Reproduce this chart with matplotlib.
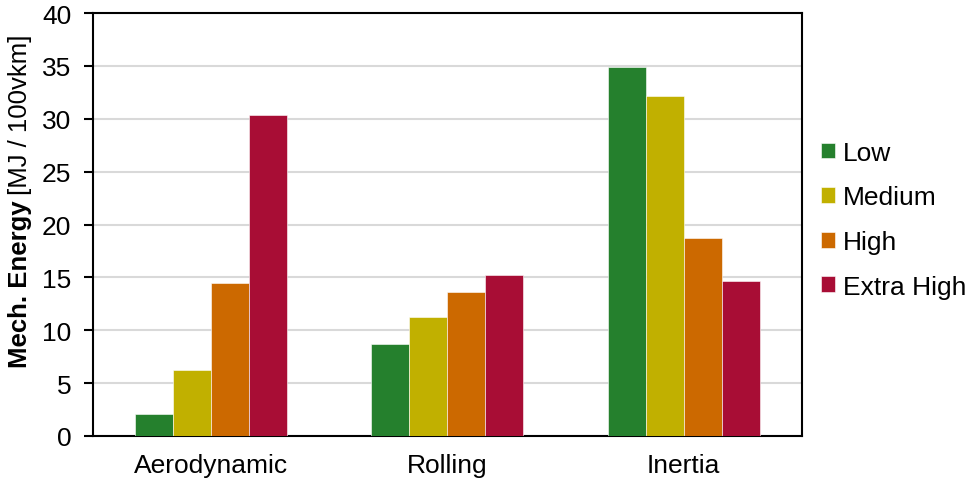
import numpy as np
import matplotlib.pyplot as plt

plt.rcParams['font.family'] = ['Liberation Sans', 'DejaVu Sans']

categories = ['Aerodynamic', 'Rolling', 'Inertia']
series = ['Low', 'Medium', 'High', 'Extra High']
low = [2.1, 8.7, 34.9]
medium = [6.2, 11.3, 32.2]
high = [14.5, 13.6, 18.7]
extra_high = [30.4, 15.2, 14.7]
colors = ['#25802D', '#C1B000', '#CC6900', '#A80D35']
yticks = [0, 5, 10, 15, 20, 25, 30, 35, 40]

fs = 19

fig = plt.figure(figsize=(9.66, 4.85), dpi=100)
ax = fig.add_axes([0.0963, 0.099, 0.7337, 0.872])

x = np.arange(len(categories))
w = 0.161
for i, (vals, name) in enumerate(zip([low, medium, high, extra_high], series)):
    ax.bar(x + (i - 1.5) * w, vals, width=w, color=colors[i], label=name,
           edgecolor='white', linewidth=0.4, zorder=3)

ax.set_xlim(-0.5, 2.5)
ax.set_ylim(0, 40)
ax.set_yticks(yticks)
ax.set_xticks(x)
ax.set_xticklabels(categories, fontsize=fs)
ax.tick_params(axis='x', length=0, pad=12)
ax.tick_params(axis='y', labelsize=fs, length=6.5, width=1.5, pad=9)
ax.grid(axis='y', color='#D9D9D9', linewidth=1.5, zorder=0)
for s in ax.spines.values():
    s.set_linewidth(1.5)
    s.set_color('black')

# y label: bold part + regular part
lx, ly = 0.021, 0.241
t1 = fig.text(lx, ly, 'Mech. Energy', rotation=90, fontsize=18.5, weight='bold',
              ha='center', va='bottom')
fig.canvas.draw()
bb = t1.get_window_extent()
fig.text(lx, bb.y1 / fig.bbox.height + 0.012, '[MJ / 100vkm]', rotation=90,
         fontsize=18.5, ha='center', va='bottom')

fig.legend(loc='center left', bbox_to_anchor=(0.825, 0.545), frameon=False,
           fontsize=fs, handlelength=0.55, handleheight=0.55, handletextpad=0.3,
           labelspacing=0.78)

fig.savefig('out.png', dpi=100)
